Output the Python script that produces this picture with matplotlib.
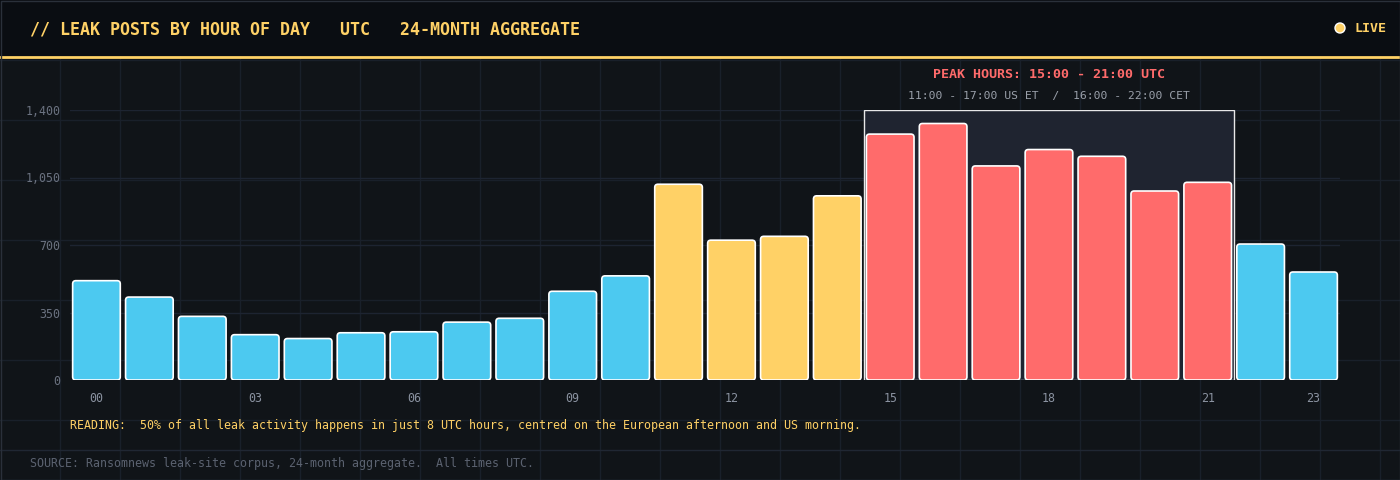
import matplotlib
matplotlib.use("Agg")
import matplotlib.pyplot as plt
from matplotlib.patches import FancyBboxPatch, Rectangle, Circle

# ─── data ────────────────────────────────────────────────────────────────────
hours = list(range(24))
posts = [515, 430, 330, 235, 215, 245, 250, 300, 320, 460, 540, 1015,
         725, 745, 955, 1275, 1330, 1110, 1195, 1160, 980, 1025, 705, 560]
shoulder_hours = range(11, 15)
peak_hours = range(15, 22)
yticks = [0, 350, 700, 1050, 1400]
xtick_hours = [0, 3, 6, 9, 12, 15, 18, 21, 23]

title = "// LEAK POSTS BY HOUR OF DAY   UTC   24-MONTH AGGREGATE"
peak_title = "PEAK HOURS: 15:00 - 21:00 UTC"
peak_sub = "11:00 - 17:00 US ET  /  16:00 - 22:00 CET"
reading = ("READING:  50% of all leak activity happens in just 8 UTC hours, "
           "centred on the European afternoon and US morning.")
source = "SOURCE: Ransomnews leak-site corpus, 24-month aggregate.  All times UTC."

# ─── style ───────────────────────────────────────────────────────────────────
BG = "#101418"
HEADER_BG = "#0a0d12"
GRID_BG = "#19202a"
GRID_AX = "#1d2431"
GOLD = "#ffd166"
BLUE = "#4cc9f0"
RED = "#ff6b6b"
PEAK_FILL = "#1f2430"
MUTED = "#6b7280"
plt.rcParams["font.family"] = ["DejaVu Sans Mono"]

W, H = 1400, 480
fig = plt.figure(figsize=(W / 100, H / 100), dpi=100, facecolor=BG)

# background layer in pixel coords
bg = fig.add_axes([0, 0, 1, 1], zorder=0)
bg.set_xlim(0, W)
bg.set_ylim(H, 0)
bg.axis("off")
for x in range(60, W, 60):
    bg.plot([x, x], [56, H], color=GRID_BG, lw=1, zorder=0)
for y in range(60, H + 1, 60):
    bg.plot([0, W], [y, y], color=GRID_BG, lw=1, zorder=0)

bg.add_patch(Rectangle((0, 0), W, 56, fc=HEADER_BG, ec="none", zorder=2))
bg.plot([0, W], [56.5, 56.5], color=GOLD, lw=2, zorder=3)
bg.add_patch(Rectangle((0.5, 0.5), W - 1, H - 1, fc="none", ec="#2a303a", lw=1, zorder=4))
bg.text(30, 29, title, color=GOLD, fontsize=12, fontweight="bold", va="center", ha="left", zorder=5)
bg.add_patch(Circle((1340, 28), 5, fc=GOLD, ec="white", lw=1, zorder=5))
bg.text(1354, 28.5, "LIVE", color=GOLD, fontsize=9.5, fontweight="bold", va="center", ha="left", zorder=5)

bg.plot([0, W], [450, 450], color="#202733", lw=1, zorder=1)
bg.text(70, 425, reading, color=GOLD, fontsize=8.4, va="center", ha="left", zorder=5)
bg.text(30, 464, source, color="#5b6270", fontsize=8.4, va="center", ha="left", zorder=5)

# ─── main chart ──────────────────────────────────────────────────────────────
ax_l, ax_b, ax_w, ax_h = 70, 100, 1270, 270
ax = fig.add_axes([ax_l / W, ax_b / H, ax_w / W, ax_h / H], zorder=1)
ax.set_facecolor("none")
ax.set_xlim(-0.5, 23.5)
ax.set_ylim(0, 1400)
for s in ax.spines.values():
    s.set_visible(False)

ax.set_yticks(yticks)
ax.set_yticklabels([f"{v:,}" for v in yticks])
ax.set_xticks(xtick_hours)
ax.set_xticklabels([f"{h:02d}" for h in xtick_hours])
ax.tick_params(axis="y", length=0, pad=7, labelsize=8.4, labelcolor=MUTED)
ax.tick_params(axis="x", length=0, pad=9, labelsize=8.4, labelcolor="#8b93a1")
ax.yaxis.grid(True, color=GRID_AX, lw=1, zorder=0)
ax.set_axisbelow(True)

# peak window
p0, p1 = min(peak_hours) - 0.5, max(peak_hours) + 0.5
ax.add_patch(Rectangle((p0, 0), p1 - p0, yticks[-1], fc=PEAK_FILL, ec="#e8e8e8", lw=1, zorder=2))
pc = (p0 + p1) / 2
ax.annotate(peak_title, (pc, yticks[-1]), xytext=(0, 35), textcoords="offset pixels",
            ha="center", va="center", color=RED, fontsize=9.6, fontweight="bold",
            annotation_clip=False)
ax.annotate(peak_sub, (pc, yticks[-1]), xytext=(0, 14), textcoords="offset pixels",
            ha="center", va="center", color="#9aa0aa", fontsize=8.2,
            annotation_clip=False)

colors = [RED if h in peak_hours else GOLD if h in shoulder_hours else BLUE for h in hours]
bars = ax.bar(hours, posts, width=0.9, color=colors, edgecolor="white", linewidth=1.2, zorder=3)

# swap the plain bars for rounded ones
aspect = (1400 / ax_h) / (24 / ax_w)
for b, c in zip(bars, colors):
    fb = FancyBboxPatch((b.get_x(), 0), b.get_width(), b.get_height(),
                        boxstyle="round,pad=0,rounding_size=0.06",
                        mutation_aspect=aspect, fc=c, ec="white", lw=1.2, zorder=3)
    b.remove()
    ax.add_patch(fb)

fig.savefig("out.png", dpi=100, facecolor=BG)
